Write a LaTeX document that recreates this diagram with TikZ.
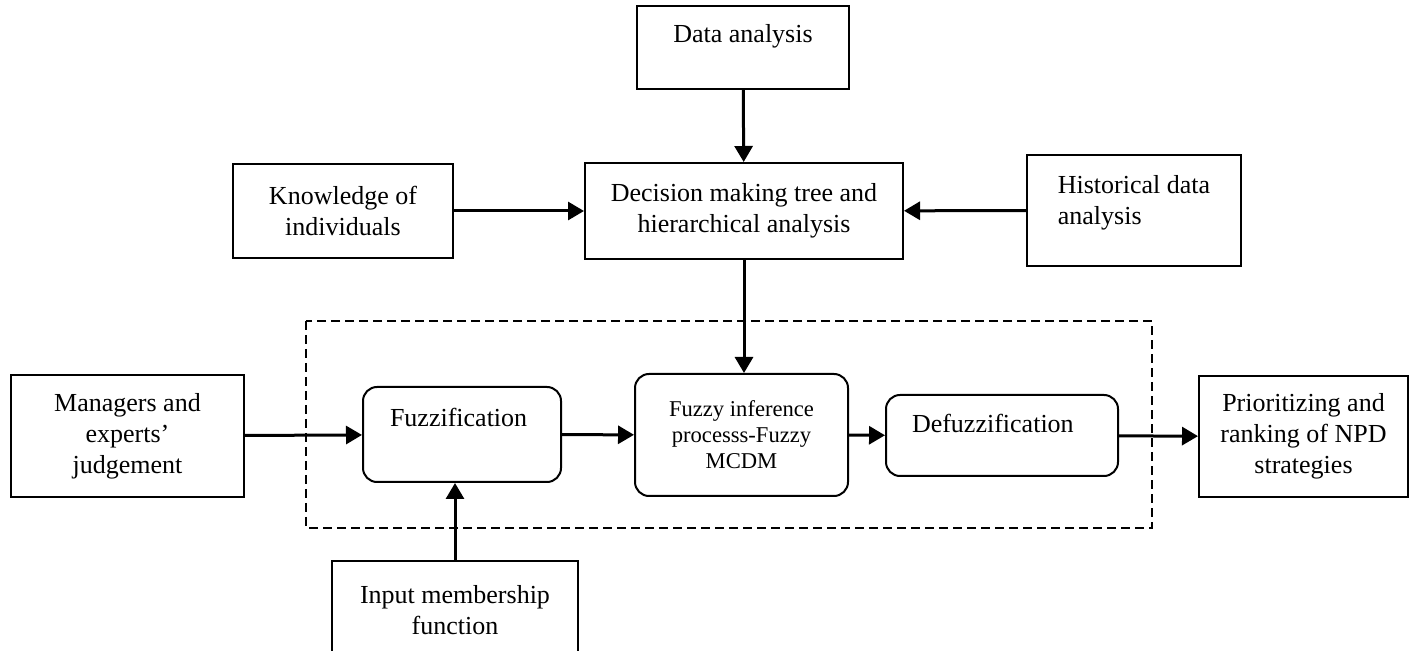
\documentclass[tikz,border=0pt]{standalone}
\usepackage{fontspec}
\setmainfont{Liberation Serif}
\usetikzlibrary{arrows.meta,positioning}

\begin{document}
\begin{tikzpicture}[x=0.5pt, y=-0.5pt, >={Triangle[length=8pt,width=9pt]},
                    box/.style={draw, line width=1pt, inner sep=0pt, align=center,
                                font=\fontsize{13}{15.5}\selectfont},
                    rbox/.style={box, rounded corners=7pt},
                    flow/.style={->, line width=1.5pt}]
    \useasboundingbox (0,0) rectangle (1413,651);
    % top row
    \node[box, minimum width=106pt, text height=18.5pt, text depth=23pt] (da) at (743,47.5) {Data analysis};
    \node[box, minimum width=159pt, minimum height=48pt] (dm) at (744,211) {Decision making tree and\\hierarchical analysis};
    \node[box, minimum width=110pt, minimum height=47pt] (ki) at (343,211) {Knowledge of\\individuals};
    \node[box, minimum width=107pt, minimum height=55.5pt, align=left] (hd) at (1134,210.5) {Historical data\\analysis\\[-5pt]\mbox{}};
    % fuzzy system
    \draw[dashed, line width=1pt, dash pattern=on 4.5pt off 2.5pt] (306,321) rectangle (1152,528);
    \node[box, minimum width=116.5pt, minimum height=61pt] (me) at (127.5,436) {Managers and\\experts'\\judgement};
    \node[rbox, inner xsep=13.5pt, text width=72pt, align=left, text height=20pt, text depth=27.5pt] (fz) at (462,434.5) {Fuzzification};
    \node[rbox, minimum width=106.5pt, minimum height=61pt, font=\fontsize{11.3}{13}\selectfont] (fi) at (741.5,435) {Fuzzy inference\\processs-Fuzzy\\MCDM};
    \node[rbox, inner xsep=13pt, text width=90pt, align=left, text height=19pt, text depth=21.5pt] (dfz) at (1002,435.5) {Defuzzification};
    \node[box, minimum width=104.5pt, minimum height=60.5pt] (pr) at (1303.5,436.5) {Prioritizing and\\ranking of NPD\\strategies};
    \node[box, minimum width=123pt, minimum height=49pt] (im) at (455,610) {Input membership\\function};
    % connectors
    \draw[flow] (da) -- (dm);
    \draw[flow] (ki) -- (dm);
    \draw[flow] (hd) -- (dm);
    \draw[flow] (dm.south) -- (dm.south |- fi.north);
    \draw[flow] (me) -- (fz);
    \draw[flow] (fz) -- (fi);
    \draw[flow] (fi) -- (dfz);
    \draw[flow] (dfz) -- (pr);
    \draw[flow] (im.north) -- (im.north |- fz.south);
\end{tikzpicture}
\end{document}
